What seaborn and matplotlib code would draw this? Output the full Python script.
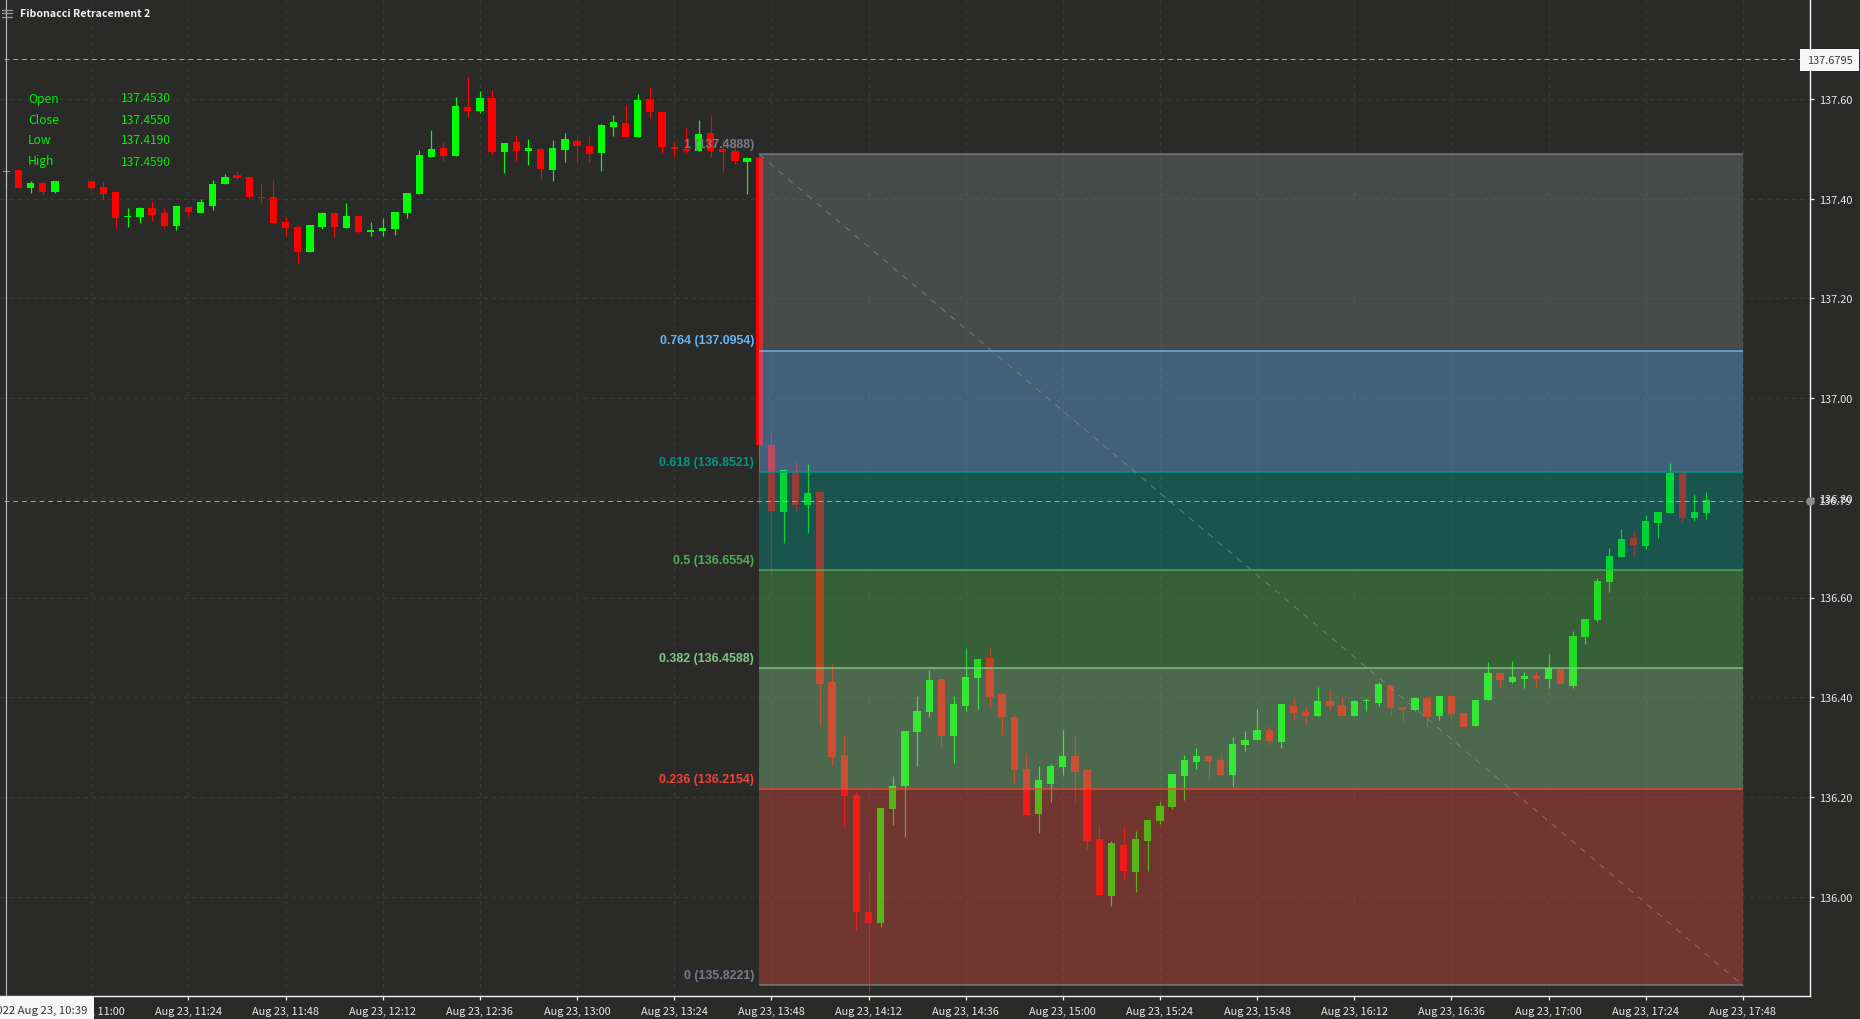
import numpy as np
import pandas as pd
import matplotlib
matplotlib.use("Agg")
import matplotlib.pyplot as plt
from matplotlib.patches import Rectangle
from matplotlib.lines import Line2D
import seaborn as sns

BG = "#2a2b29"
sns.set_theme(style="dark", rc={
    "figure.facecolor": BG, "axes.facecolor": BG, "savefig.facecolor": BG,
    "axes.edgecolor": "#f2f2f2", "text.color": "#e6e6e6",
    "xtick.color": "#f2f2f2", "ytick.color": "#f2f2f2",
})
UI_FONT = ["Noto Sans CJK SC", "DejaVu Sans"]
LABEL_FONT = ["Liberation Sans", "DejaVu Sans"]
plt.rcParams["font.family"] = UI_FONT

# ---- data -------------------------------------------------------------
START_MIN = 639            # 10:39, first candle
STEP_MIN = 3               # three-minute candles
candle_slots = list(range(0, 5)) + list(range(7, 141))

opens = [137.453, 137.458, 137.422, 137.432, 137.414,
         137.436, 137.424, 137.413, 137.363, 137.363, 137.381, 137.371, 137.346, 137.384, 137.372,
         137.386, 137.430, 137.448, 137.444, 137.404, 137.403, 137.353, 137.343, 137.294, 137.343,
         137.371, 137.341, 137.365, 137.334, 137.336, 137.339, 137.372, 137.409, 137.484, 137.501,
         137.486, 137.584, 137.575, 137.602, 137.493, 137.513, 137.495, 137.499, 137.458, 137.498,
         137.515, 137.505, 137.491, 137.544, 137.552, 137.523, 137.599, 137.573, 137.504, 137.500,
         137.495, 137.531, 137.500, 137.495, 137.474, 137.481, 136.906, 136.772, 136.852, 136.785,
         136.812, 136.431, 136.284, 136.204, 135.969, 135.947, 136.176, 136.222, 136.330, 136.370,
         136.437, 136.322, 136.382, 136.439, 136.479, 136.406, 136.360, 136.256, 136.166, 136.226,
         136.260, 136.282, 136.254, 136.115, 136.001, 136.103, 136.049, 136.111, 136.152, 136.180,
         136.242, 136.270, 136.282, 136.274, 136.244, 136.304, 136.314, 136.334, 136.310, 136.382,
         136.370, 136.362, 136.392, 136.384, 136.362, 136.392, 136.388, 136.424, 136.380, 136.374,
         136.398, 136.362, 136.402, 136.368, 136.342, 136.394, 136.449, 136.430, 136.437, 136.443,
         136.437, 136.457, 136.423, 136.521, 136.555, 136.631, 136.681, 136.719, 136.703, 136.749,
         136.769, 136.852, 136.759, 136.769]
closes = [137.455, 137.422, 137.431, 137.414, 137.436,
          137.422, 137.410, 137.361, 137.366, 137.381, 137.367, 137.345, 137.385, 137.373, 137.393,
          137.430, 137.444, 137.441, 137.403, 137.402, 137.352, 137.342, 137.293, 137.347, 137.371,
          137.344, 137.365, 137.333, 137.337, 137.341, 137.373, 137.412, 137.487, 137.499, 137.485,
          137.585, 137.575, 137.603, 137.494, 137.511, 137.496, 137.502, 137.460, 137.501, 137.519,
          137.505, 137.490, 137.547, 137.553, 137.524, 137.597, 137.573, 137.504, 137.499, 137.496,
          137.529, 137.496, 137.493, 137.476, 137.482, 136.906, 136.774, 136.856, 136.785, 136.810,
          136.426, 136.281, 136.202, 135.969, 135.947, 136.178, 136.222, 136.332, 136.372, 136.434,
          136.322, 136.386, 136.441, 136.477, 136.400, 136.360, 136.254, 136.164, 136.234, 136.262,
          136.282, 136.250, 136.111, 136.003, 136.107, 136.051, 136.115, 136.154, 136.182, 136.246,
          136.274, 136.282, 136.272, 136.244, 136.306, 136.314, 136.334, 136.312, 136.386, 136.368,
          136.362, 136.392, 136.382, 136.362, 136.392, 136.394, 136.426, 136.378, 136.374, 136.398,
          136.360, 136.402, 136.366, 136.340, 136.394, 136.449, 136.434, 136.441, 136.443, 136.437,
          136.459, 136.426, 136.523, 136.557, 136.633, 136.683, 136.717, 136.705, 136.754, 136.771,
          136.850, 136.759, 136.771, 136.795]
highs = [137.459, 137.458, 137.435, 137.436, 137.436,
         137.436, 137.433, 137.413, 137.381, 137.383, 137.396, 137.381, 137.385, 137.384, 137.399,
         137.437, 137.450, 137.456, 137.444, 137.432, 137.437, 137.363, 137.347, 137.347, 137.374,
         137.371, 137.391, 137.365, 137.354, 137.362, 137.373, 137.412, 137.497, 137.538, 137.514,
         137.604, 137.645, 137.616, 137.619, 137.511, 137.528, 137.520, 137.501, 137.518, 137.532,
         137.521, 137.526, 137.550, 137.568, 137.587, 137.610, 137.624, 137.573, 137.513, 137.542,
         137.558, 137.568, 137.520, 137.520, 137.482, 137.481, 136.932, 136.858, 136.872, 136.868,
         136.812, 136.469, 136.324, 136.212, 136.049, 136.178, 136.242, 136.332, 136.402, 136.455,
         136.437, 136.402, 136.499, 136.477, 136.501, 136.406, 136.366, 136.288, 136.262, 136.266,
         136.334, 136.324, 136.254, 136.143, 136.111, 136.141, 136.131, 136.154, 136.192, 136.246,
         136.284, 136.298, 136.282, 136.288, 136.320, 136.332, 136.376, 136.342, 136.386, 136.398,
         136.380, 136.420, 136.416, 136.400, 136.394, 136.398, 136.430, 136.424, 136.380, 136.400,
         136.398, 136.402, 136.402, 136.368, 136.394, 136.471, 136.449, 136.473, 136.451, 136.453,
         136.487, 136.457, 136.533, 136.557, 136.639, 136.699, 136.737, 136.735, 136.766, 136.771,
         136.870, 136.852, 136.808, 136.812]
lows = [137.419, 137.422, 137.412, 137.410, 137.411,
        137.420, 137.397, 137.341, 137.344, 137.352, 137.355, 137.342, 137.338, 137.366, 137.372,
        137.377, 137.430, 137.437, 137.399, 137.391, 137.352, 137.325, 137.271, 137.294, 137.339,
        137.323, 137.341, 137.332, 137.325, 137.325, 137.328, 137.361, 137.409, 137.484, 137.476,
        137.486, 137.563, 137.571, 137.490, 137.451, 137.476, 137.468, 137.440, 137.436, 137.474,
        137.472, 137.474, 137.456, 137.526, 137.524, 137.523, 137.561, 137.491, 137.484, 137.492,
        137.495, 137.484, 137.453, 137.470, 137.409, 136.788, 136.647, 136.709, 136.772, 136.729,
        136.342, 136.261, 136.140, 135.933, 135.808, 135.939, 136.144, 136.120, 136.262, 136.360,
        136.302, 136.268, 136.372, 136.376, 136.380, 136.324, 136.228, 136.164, 136.128, 136.190,
        136.244, 136.188, 136.095, 136.003, 135.981, 136.035, 136.009, 136.051, 136.146, 136.176,
        136.194, 136.256, 136.236, 136.244, 136.222, 136.292, 136.314, 136.304, 136.298, 136.354,
        136.346, 136.362, 136.374, 136.362, 136.362, 136.372, 136.382, 136.364, 136.352, 136.372,
        136.340, 136.354, 136.356, 136.340, 136.342, 136.394, 136.420, 136.428, 136.418, 136.420,
        136.418, 136.426, 136.418, 136.507, 136.551, 136.611, 136.681, 136.683, 136.697, 136.719,
        136.769, 136.751, 136.753, 136.757]

fib_ratios = ["1", "0.764", "0.618", "0.5", "0.382", "0.236", "0"]
fib_levels = [137.4888, 137.0954, 136.8521, 136.6554, 136.4588, 136.2154, 135.8221]
fib_line_colors = ["#787b86", "#64b5f6", "#009688", "#4caf50", "#81c784", "#f44336", "#787b86"]
fib_zone_colors = ["#7a7d80", "#64b5f6", "#009688", "#4caf50", "#81c784", "#dc483c"]
FIB_START = 825   # 13:45
FIB_END = 1068    # 17:48

price_ticks = [136.00, 136.20, 136.40, 136.60, 136.80, 137.00, 137.20, 137.40, 137.60]
time_ticks = list(range(660, 1069, 24))
time_labels = [f"Aug 23, {m // 60}:{m % 60:02d}" for m in time_ticks]

cross_top = 137.6795
cross_mid = 136.793
ohlc_names = ["Open", "Close", "Low", "High"]
ohlc_values = ["137.4530", "137.4550", "137.4190", "137.4590"]

# ---- figure -----------------------------------------------------------
W, H = 1860, 1020
fig = plt.figure(figsize=(W / 100, H / 100), dpi=100)
AX_R, AX_B = 1809.5, 997.0
ax = fig.add_axes([0, 1 - AX_B / H, AX_R / W, AX_B / H])
ax.set_facecolor(BG)

df = pd.DataFrame({"slot": candle_slots, "open": opens, "high": highs, "low": lows, "close": closes})
df["minute"] = START_MIN + STEP_MIN * df["slot"]
df["bottom"] = df[["open", "close"]].min(axis=1)
df["body"] = (df["open"] - df["close"]).abs().clip(lower=0.002)
df["rising"] = df["close"] >= df["open"]

UP, DOWN = "#00ff00", "#ff0000"
for rising, col in [(True, UP), (False, DOWN)]:
    part = df[df["rising"] == rising].sort_values("minute")
    sns.barplot(data=part, x="minute", y="body", bottom=part["bottom"].values,
                native_scale=True, color=col, saturation=1, width=0.6,
                errorbar=None, linewidth=0, zorder=2, ax=ax)
    ax.vlines(part["minute"], part["low"], part["high"], color=col, lw=0.85, zorder=2)

# Fibonacci zones sit on top of the candles
for top, bot, col in zip(fib_levels[:-1], fib_levels[1:], fib_zone_colors):
    ax.fill_between([FIB_START, FIB_END], bot, top, color=col, alpha=0.4, lw=0, zorder=3)
for ratio, lvl, col in zip(fib_ratios, fib_levels, fib_line_colors):
    ax.hlines(lvl, FIB_START, FIB_END, color=col, lw=1.3, alpha=0.8, zorder=4)
    ax.annotate(f"{ratio} ({lvl:.4f})", xy=(FIB_START, lvl), xytext=(-3.6, 7.4),
                textcoords="offset points", ha="right", va="center", color=col,
                fontsize=8.9, family=LABEL_FONT, fontweight="bold", zorder=5)
ax.plot([FIB_START, FIB_END], [fib_levels[0], fib_levels[-1]], color="#8f9499",
        lw=0.75, alpha=0.6, dashes=(6, 6), zorder=4)

# axes
ax.set_xlim(660 - 91.3 / 4.048, 660 + (AX_R - 91.3) / 4.048)
ax.set_ylim(137.6 - (AX_B - 100) / 498.5, 137.6 + 100 / 498.5)
ax.set_xticks(time_ticks, time_labels)
ax.set_yticks(price_ticks, [f"{p:.2f}" for p in price_ticks])
ax.set_xlabel("")
ax.set_ylabel("")
ax.yaxis.tick_right()
TICK_SIZE = 7.9
ax.tick_params(axis="both", length=3, width=0.9, labelsize=TICK_SIZE, pad=4, color="#f2f2f2",
               labelcolor="#e6e6e6", bottom=True, right=True)
for s in ["top", "left"]:
    ax.spines[s].set_visible(False)
for s in ["right", "bottom"]:
    ax.spines[s].set_visible(True)
    ax.spines[s].set_color("#f2f2f2")
    ax.spines[s].set_linewidth(1.0)
ax.set_axisbelow(True)
GRID = "#393a38"
ax.grid(False)
for p in price_ticks + [137.80]:
    ax.axhline(p, color=GRID, lw=0.75, dashes=(4, 4), zorder=1)
for t in time_ticks:
    ax.axvline(t, color=GRID, lw=0.75, dashes=(4, 4), zorder=1)

# crosshair
CROSS = "#a8a8a8"
x_cross = START_MIN
ax.axvline(x_cross, color="#bdbdbd", lw=0.8, zorder=6)
for y in [cross_top, cross_mid]:
    ax.plot([x_cross - 0.5, ax.get_xlim()[1]], [y, y], color=CROSS, lw=0.7, dashes=(5, 4), zorder=6)
ax.scatter([ax.get_xlim()[1]], [cross_mid], s=38, color="#8c8c8c", zorder=7, clip_on=False, linewidths=0)
ax.annotate(f"{cross_mid:.2f}", xy=(ax.get_xlim()[1], cross_mid), xytext=(5.9, 0),
            textcoords="offset points", ha="left", va="center", color="#e6e6e6",
            fontsize=TICK_SIZE, zorder=7, annotation_clip=False)


def px_box(x0, y0, x1, y1, color="#f6f6f6", z=20):
    fig.add_artist(Rectangle((x0 / W, 1 - y1 / H), (x1 - x0) / W, (y1 - y0) / H,
                             transform=fig.transFigure, facecolor=color, edgecolor="none", zorder=z))


def px_text(x, y, s, **kw):
    fig.text(x / W, 1 - y / H, s, va="center", **kw)


# value boxes
px_box(1800, 50, 1859, 72)
px_text(1829.5, 60.8, f"{cross_top:.4f}", ha="center", color="#3a3a3a", fontsize=TICK_SIZE, zorder=21)
px_box(0, 998, 94, 1020)
px_text(87, 1010.5, "2022 Aug 23, 10:39", ha="right", color="#3a3a3a", fontsize=8.2, zorder=21)

# header
px_text(20, 14, "Fibonacci Retracement 2", ha="left", color="#f2f2f2", fontsize=7.6,
        fontweight="bold", zorder=21)
for yy in [10.5, 14, 17.5]:
    fig.add_artist(Line2D([2 / W, 12 / W], [1 - yy / H, 1 - yy / H], color="#9a9a9a", lw=0.9, zorder=21))

# OHLC readout
for name, val, yy in zip(ohlc_names, ohlc_values, [99, 120, 141, 162]):
    px_text(28, yy, name, ha="left", color="#00f000", fontsize=8.7, zorder=21)
    px_text(121, yy, val, ha="left", color="#00f000", fontsize=8.7, zorder=21)

fig.savefig("out.png", dpi=100, facecolor=BG)
